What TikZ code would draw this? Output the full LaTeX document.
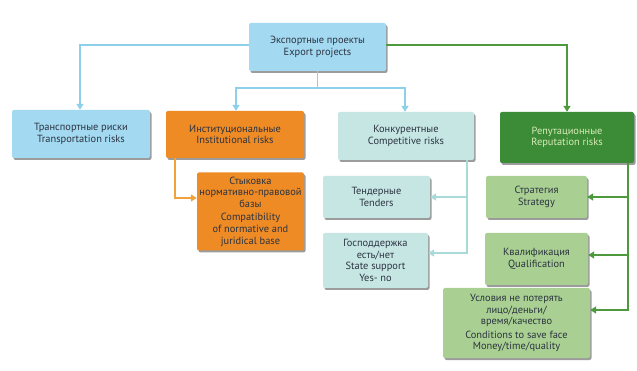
\documentclass[tikz,border=0pt]{standalone}
\usepackage{fontspec}
\setmainfont{PT Sans}
\usetikzlibrary{arrows.meta,shadows}
\definecolor{bluefill}{HTML}{A3D9F1}
\definecolor{blueline}{HTML}{8DD0EA}
\definecolor{orangefill}{HTML}{EE8B25}
\definecolor{orangeline}{HTML}{F2A23A}
\definecolor{tealfill}{HTML}{C6E6E4}
\definecolor{tealline}{HTML}{A9DAD8}
\definecolor{darkgreen}{HTML}{3C8C37}
\definecolor{greenline}{HTML}{4D9A3E}
\definecolor{lightgreen}{HTML}{A9D092}
\definecolor{txt}{HTML}{2B3340}
\definecolor{reptxt}{HTML}{D8EBB8}
\tikzset{
  box/.style={rectangle, rounded corners=2pt, align=center, inner sep=0pt,
    text=txt, font=\fontsize{10.4}{11.7}\selectfont,
    drop shadow={shadow xshift=1.5pt, shadow yshift=-2pt, opacity=0.55, fill=black!70}},
  conn/.style={line width=1.6pt, -{Triangle[length=6pt,width=7pt]}},
}
\begin{document}
\begin{tikzpicture}[x=1pt,y=-1pt]
\useasboundingbox (0,0) rectangle (637,371);
\fill[white] (0,0) rectangle (637,371);
% boxes
\node[box, fill=bluefill, minimum width=137pt, minimum height=48pt] (top) at (317.5,47) {Экспортные проекты\\Export projects};
\node[box, fill=bluefill, minimum width=138pt, minimum height=48pt] (trans) at (81,134) {Транспортные риски\\Transportation risks};
\node[box, fill=orangefill, minimum width=138pt, minimum height=47pt] (inst) at (235,134.5) {Институциональные\\Institutional risks};
\node[box, fill=tealfill, minimum width=136pt, minimum height=48pt] (comp) at (406,136) {Конкурентные\\Competitive risks};
\node[box, fill=darkgreen, text=reptxt, minimum width=134pt, minimum height=51pt] (rep) at (567,137.5) {Репутационные\\Reputation risks};
\node[box, fill=orangefill, minimum width=107pt, minimum height=78pt] (compat) at (250.5,211.5) {Стыковка\\нормативно-правовой\\базы\\[1.5pt]Compatibility\\of normative and\\juridical base};
\node[box, fill=tealfill, minimum width=107pt, minimum height=42pt] (tend) at (376.5,197) {Тендерные\\Tenders};
\node[box, fill=tealfill, minimum width=105pt, minimum height=55pt] (state) at (375.5,260.5) {Господдержка\\есть/нет\\State support\\Yes- no};
\node[box, fill=lightgreen, minimum width=101pt, minimum height=42pt] (strat) at (536.5,197) {Стратегия\\Strategy};
\node[box, fill=lightgreen, minimum width=103pt, minimum height=52pt] (qual) at (536.5,259) {Квалификация\\Qualification};
\node[box, fill=lightgreen, minimum width=147pt, minimum height=70pt] (cond) at (516.5,323) {Условия не потерять\\лицо/деньги/\\время/качество\\[1.5pt]Conditions to save face\\Money/time/quality};
% connectors
\coordinate (tl) at (80,45);
\coordinate (tr) at (567,45);
\coordinate (mid) at (317.5,88);
\draw[conn, blueline] (top.west |- tl) -- (tl) -- (trans.north -| tl);
\draw[conn, greenline] (top.east |- tr) -- (tr) -- (rep.north -| tr);
\draw[line width=1.6pt, blueline] (top.south) -- (mid);
\draw[conn, blueline] (mid) -- (236,88) -- (inst.north -| 236,0);
\draw[conn, blueline] (mid) -- (405,88) -- (comp.north -| 405,0);
% institutional
\coordinate (ib) at (175,198);
\draw[conn, orangeline] (inst.south -| ib) -- (ib) -- (compat.west |- ib);
% competitive
\coordinate (cb) at (467,253);
\coordinate (cm) at (467,197);
\draw[conn, tealline] (comp.south -| cb) -- (cb) -- (state.east |- cb);
\draw[conn, tealline] (cm) -- (tend.east |- cm);
% reputation
\coordinate (rb) at (628,310);
\coordinate (r1) at (628,197);
\coordinate (r2) at (628,255);
\draw[conn, greenline] (rep.south -| rb) -- (rb) -- (cond.east |- rb);
\draw[conn, greenline] (r1) -- (strat.east |- r1);
\draw[conn, greenline] (r2) -- (qual.east |- r2);
\end{tikzpicture}
\end{document}
